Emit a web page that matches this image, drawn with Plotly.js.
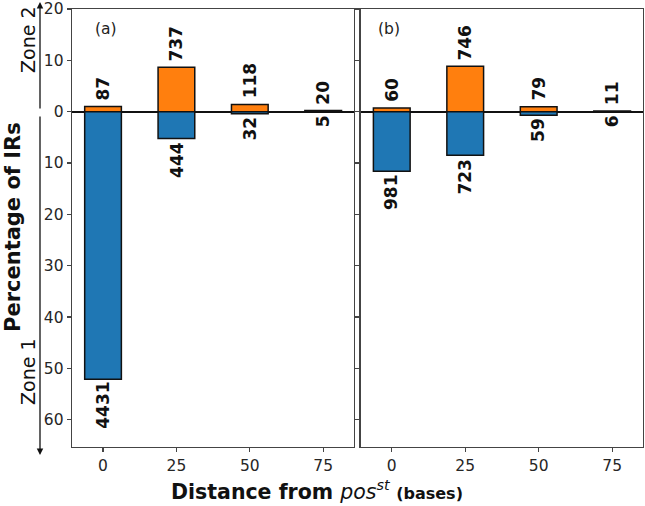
<!DOCTYPE html>
<html>
<head>
<meta charset="utf-8">
<script src="https://cdn.plot.ly/plotly-3.0.1.min.js"></script>
<style>html,body{margin:0;padding:0;background:#fff;}#chart{width:645px;height:506px;}</style>
</head>
<body>
<div id="chart"></div>
<script>
// Data (percentage of IRs) and the counts printed on bars
const positions = [0, 25, 50, 75];
const zone2PctA = [1.02, 8.67, 1.39, 0.24];
const zone2CountA = [87, 737, 118, 20];
const zone1PctA = [52.1, 5.22, 0.38, 0.06];
const zone1CountA = [4431, 444, 32, 5];
const zone2PctB = [0.71, 8.83, 0.95, 0.13];
const zone2CountB = [60, 746, 79, 11];
const zone1PctB = [11.6, 8.5, 0.68, 0.07];
const zone1CountB = [981, 723, 59, 6];
const yTickVals = [20, 10, 0, -10, -20, -30, -40, -50, -60];
const yTickText = ['20', '10', '0', '10', '20', '30', '40', '50', '60'];
const xTickVals = [0, 25, 50, 75];

const ORANGE = '#ff7f0e', BLUE = '#1f77b4';
const FONT = 'DejaVu Sans, sans-serif';
const barW = 12.5;

function bars(pct, color, xa, ya, sign) {
  return {
    type: 'bar', x: positions, y: pct.map(v => sign * v), width: barW,
    xaxis: xa, yaxis: ya, marker: {color: color, line: {color: '#111', width: 1.5}},
    hoverinfo: 'skip', showlegend: false
  };
}

const traces = [
  bars(zone2PctA, ORANGE, 'x', 'y', 1),
  bars(zone1PctA, BLUE, 'x', 'y', -1),
  bars(zone2PctB, ORANGE, 'x2', 'y2', 1),
  bars(zone1PctB, BLUE, 'x2', 'y2', -1)
];

const annotations = [];
function labels(pct, counts, xr, yr, up) {
  pct.forEach((v, i) => {
    annotations.push({
      x: positions[i], y: up ? v : -v, xref: xr, yref: yr,
      text: '<b>' + counts[i] + '</b>', showarrow: false, textangle: -90,
      xanchor: 'center', yanchor: up ? 'bottom' : 'top', yshift: up ? 4 : -1,
      font: {family: FONT, size: 17, color: '#111'}
    });
  });
}
labels(zone2PctA, zone2CountA, 'x', 'y', true);
labels(zone1PctA, zone1CountA, 'x', 'y', false);
labels(zone2PctB, zone2CountB, 'x2', 'y2', true);
labels(zone1PctB, zone1CountB, 'x2', 'y2', false);

// panel tags
annotations.push({x: (106 - 72) / 571, y: (447 - 29) / 438, xref: 'paper', yref: 'paper', text: '(a)', showarrow: false,
  xanchor: 'center', yanchor: 'middle', font: {family: FONT, size: 15.5, color: '#222'}});
annotations.push({x: (389 - 72) / 571, y: (447 - 29) / 438, xref: 'paper', yref: 'paper', text: '(b)', showarrow: false,
  xanchor: 'center', yanchor: 'middle', font: {family: FONT, size: 15.5, color: '#222'}});

// y-axis side texts
annotations.push({x: (13.5 - 72) / 571, y: (447 - 227.5) / 438, xref: 'paper', yref: 'paper', text: '<b>Percentage of IRs</b>',
  showarrow: false, textangle: -90, xanchor: 'center', yanchor: 'middle',
  font: {family: FONT, size: 21, color: '#111'}});
annotations.push({x: (28 - 72) / 571, y: (447 - 40) / 438, xref: 'paper', yref: 'paper', text: 'Zone 2',
  showarrow: false, textangle: -90, xanchor: 'center', yanchor: 'middle',
  font: {family: FONT, size: 19, color: '#111'}});
annotations.push({x: (28 - 72) / 571, y: (447 - 372) / 438, xref: 'paper', yref: 'paper', text: 'Zone 1',
  showarrow: false, textangle: -90, xanchor: 'center', yanchor: 'middle',
  font: {family: FONT, size: 19, color: '#111'}});

// arrows
const arrowX = (40 - 72) / 571;
annotations.push({x: arrowX, y: (447 - 2) / 438, xref: 'paper', yref: 'paper', text: '',
  showarrow: true, axref: 'pixel', ayref: 'pixel', ax: 0, ay: 108, arrowhead: 2, arrowsize: 1,
  arrowwidth: 1.3, arrowcolor: '#111', standoff: 0, startstandoff: 0});
annotations.push({x: arrowX, y: (447 - 455) / 438, xref: 'paper', yref: 'paper', text: '',
  showarrow: true, axref: 'pixel', ayref: 'pixel', ax: 0, ay: -340, arrowhead: 2, arrowsize: 1,
  arrowwidth: 1.3, arrowcolor: '#111', standoff: 0, startstandoff: 0});

// x title
annotations.push({x: (317 - 72) / 571, y: (447 - 490) / 438, xref: 'paper', yref: 'paper', xanchor: 'center', yanchor: 'middle',
  text: '<b>Distance from </b><i>pos</i><sup><i>st</i></sup> <b><span style="font-size:16px">(bases)</span></b>',
  showarrow: false, font: {family: FONT, size: 20.5, color: '#111'}});

const axisCommon = {
  showline: true, linecolor: '#444', linewidth: 1.3, mirror: true,
  ticks: 'outside', ticklen: 4, tickwidth: 1.2, tickcolor: '#444',
  showgrid: false, tickfont: {family: FONT, size: 15.5, color: '#262626'}
};
const xCommon = Object.assign({}, axisCommon, {range: [-10.57, 85.5], tickvals: xTickVals, zeroline: false});
const yCommon = Object.assign({}, axisCommon, {range: [-65.3, 20], tickvals: yTickVals, ticktext: yTickText,
  zeroline: true, zerolinecolor: '#111', zerolinewidth: 1.6});

const layout = {
  width: 645, height: 506,
  margin: {l: 72, r: 2, t: 9, b: 59},
  paper_bgcolor: '#fff', plot_bgcolor: '#fff',
  barmode: 'relative', bargap: 0,
  font: {family: FONT},
  xaxis: Object.assign({}, xCommon, {domain: [0, 0.4939], anchor: 'y'}),
  yaxis: Object.assign({}, yCommon, {anchor: 'x'}),
  xaxis2: Object.assign({}, xCommon, {domain: [0.5056, 1], anchor: 'y2'}),
  yaxis2: Object.assign({}, yCommon, {anchor: 'x2', showticklabels: false}),
  annotations: annotations
};

Plotly.newPlot('chart', traces, layout, {displayModeBar: false, staticPlot: true});
</script>
</body>
</html>
